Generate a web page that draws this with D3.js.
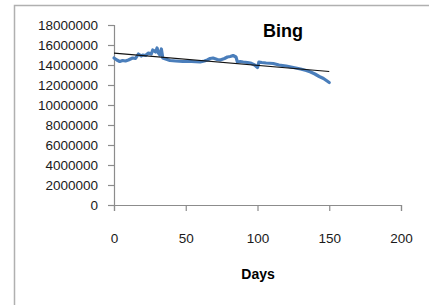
<!DOCTYPE html>
<html>
<head>
<meta charset="utf-8">
<script src="https://cdn.jsdelivr.net/npm/d3@7"></script>
<style>
  html, body { margin: 0; padding: 0; background: #fff; }
  svg { display: block; }
</style>
</head>
<body>
<svg id="chart" width="429" height="305"></svg>
<script>
// ---- data ----
const title = "Bing";
const xLabel = "Days";
const days = [0, 2, 4, 6, 8, 10, 13, 15, 17, 19, 20, 22, 24, 26, 27, 29, 30, 31, 32, 33, 34, 36, 39, 43, 48, 54, 60, 63, 65, 67, 69, 72, 74, 77, 79, 81, 83, 85, 86, 88, 90, 93, 95, 98, 100, 101, 103, 106, 111, 115, 120, 125, 130, 134, 137, 140, 143, 146, 148, 150];
const visits = [14700000, 14500000, 14350000, 14450000, 14400000, 14500000, 14700000, 14650000, 15100000, 14900000, 15000000, 14950000, 15200000, 15100000, 15500000, 15300000, 15700000, 15200000, 15000000, 15600000, 14700000, 14600000, 14450000, 14400000, 14350000, 14350000, 14300000, 14400000, 14500000, 14650000, 14700000, 14550000, 14500000, 14650000, 14800000, 14850000, 14950000, 14800000, 14300000, 14350000, 14300000, 14250000, 14200000, 14000000, 13750000, 14300000, 14250000, 14200000, 14150000, 14000000, 13900000, 13750000, 13600000, 13450000, 13300000, 13100000, 12850000, 12650000, 12450000, 12250000];
const trendDays = [0, 150];
const trendValues = [15180000, 13350000];
const xTicks = [0, 50, 100, 150, 200];
const yTicks = [0, 2000000, 4000000, 6000000, 8000000, 10000000, 12000000, 14000000, 16000000, 18000000];

// ---- layout ----
const svg = d3.select("#chart");
const x = d3.scaleLinear().domain([0, 200]).range([114, 401]);
const y = d3.scaleLinear().domain([0, 18000000]).range([205, 25]);

// outer frame
svg.append("path")
  .attr("d", "M14.5,306 V5.5 H430")
  .attr("fill", "none")
  .attr("stroke", "#b0b0b0")
  .attr("stroke-width", 1.5);

const font = "'Liberation Sans', Arial, sans-serif";

// y axis
const yAxis = svg.append("g")
  .attr("transform", "translate(114,0)")
  .call(d3.axisLeft(y).tickValues(yTicks).tickSize(6).tickPadding(10).tickFormat(d3.format("d")));
// x axis
const xAxis = svg.append("g")
  .attr("transform", "translate(0,205)")
  .call(d3.axisBottom(x).tickValues(xTicks).tickSize(6).tickPadding(22).tickFormat(d3.format("d")));

[yAxis, xAxis].forEach(g => {
  g.select(".domain").attr("stroke", "#8c8c8c").attr("stroke-width", 1.2);
  g.selectAll(".tick line").attr("stroke", "#8c8c8c").attr("stroke-width", 1.2);
  g.selectAll(".tick text")
    .attr("fill", "#1a1a1a")
    .style("font-family", font)
    .style("font-size", "13.5px");
});
// extend y axis line down to tick length
yAxis.select(".domain").attr("d", "M-6,25.5H0.5V211");
xAxis.select(".domain").attr("d", "M114,0.5H401.5V6");

// data line
const line = d3.line().x(d => x(d[0])).y(d => y(d[1])).curve(d3.curveLinear);
svg.append("path")
  .datum(days.map((d, i) => [d, visits[i]]))
  .attr("d", line)
  .attr("fill", "none")
  .attr("stroke", "#4a7ebb")
  .attr("stroke-width", 3.2)
  .attr("stroke-linejoin", "round")
  .attr("stroke-linecap", "round");

// trend line
svg.append("path")
  .datum(trendDays.map((d, i) => [d, trendValues[i]]))
  .attr("d", line)
  .attr("fill", "none")
  .attr("stroke", "#111")
  .attr("stroke-width", 1.2);

// title
svg.append("text")
  .attr("x", 283).attr("y", 37)
  .attr("text-anchor", "middle")
  .style("font-family", font)
  .style("font-weight", "bold")
  .style("font-size", "18px")
  .attr("fill", "#000")
  .text(title);

// x label
svg.append("text")
  .attr("x", 258).attr("y", 279)
  .attr("text-anchor", "middle")
  .style("font-family", font)
  .style("font-weight", "bold")
  .style("font-size", "14px")
  .attr("fill", "#000")
  .text(xLabel);
</script>
</body>
</html>
